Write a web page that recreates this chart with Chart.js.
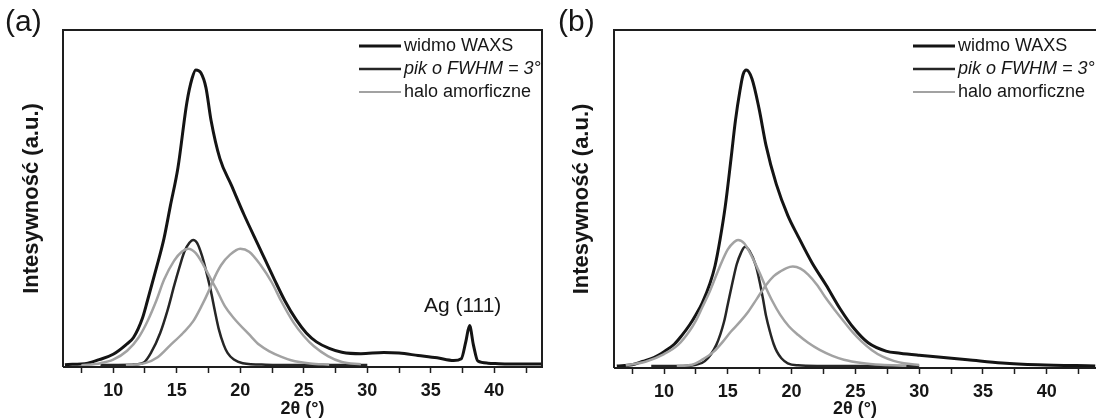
<!DOCTYPE html>
<html lang="pl">
<head>
<meta charset="utf-8">
<title>Widma WAXS</title>
<script src="https://cdn.jsdelivr.net/npm/chart.js@4.4.1/dist/chart.umd.min.js"></script>
<style>
    html, body { margin: 0; padding: 0; background: #fff; }
    #wykresy { position: relative; width: 1096px; height: 419px; }
    .panel { position: absolute; top: 0; width: 548px; height: 419px; }
    #panelA { left: 0; }
    #panelB { left: 548px; }
</style>
</head>
<body>
<div id="wykresy">
    <div class="panel" id="panelA"><canvas id="wykresA" width="548" height="419"></canvas></div>
    <div class="panel" id="panelB"><canvas id="wykresB" width="548" height="419"></canvas></div>
</div>
<script>
// Podziałka osi 2θ
const tickiGlowne = [10, 15, 20, 25, 30, 35, 40];
const tickiPomocnicze = [7.5, 12.5, 17.5, 22.5, 27.5, 32.5, 37.5, 42.5];

// Panel (a) - widmo WAXS
const katWidmoA = [6.2, 8.0, 8.9, 10.0, 11.0, 11.6, 12.3, 12.7, 13.4, 14.0, 14.5, 15.1, 15.8, 16.2, 16.5, 16.9, 17.3, 17.7, 18.4, 19.3, 20.3, 21.5, 22.7, 23.5, 24.4, 25.2, 26.0, 27.0, 28.0, 29.5, 31.3, 32.5, 34.0, 35.5, 36.8, 37.4, 37.75, 38.05, 38.35, 38.7, 39.5, 41.0, 43.7];
const widmoA = [0.3, 0.8, 2.0, 3.8, 7.0, 9.5, 16, 22, 33, 43, 54, 67, 89, 97, 100, 99, 94, 83, 70, 61, 51, 40, 29, 22, 15.5, 11, 8, 5.8, 4.5, 4.0, 4.4, 4.2, 3.4, 2.6, 1.7, 2.3, 8, 13.5, 7, 1.5, 0.8, 0.5, 0.5];

// Panel (a) - pik o FWHM = 3°
const katPikA = [9.0, 11.5, 12.4, 13.0, 13.7, 14.3, 14.8, 15.2, 15.6, 16.0, 16.3, 16.6, 17.0, 17.4, 17.7, 18.0, 18.3, 18.7, 19.0, 19.5, 20.2, 22.0, 25.0, 30.0];
const pikA = [0.2, 0.3, 1.0, 4.5, 11, 19, 27, 33, 38.5, 41.5, 42.5, 41.5, 37, 30.5, 25, 18.5, 12.5, 7, 4.3, 2, 0.8, 0.3, 0.2, 0.2];

// Panel (a) - halo amorficzne (dwa składniki)
const katHalo1A = [7.5, 9.0, 10.0, 11.1, 12.0, 12.7, 13.4, 14.0, 14.8, 15.4, 15.9, 16.5, 17.1, 17.6, 18.1, 18.8, 19.5, 20.7, 21.5, 22.3, 23.2, 24.0, 25.5, 27.0];
const halo1A = [0.1, 0.8, 2.0, 5, 9.5, 15, 22, 29, 35.5, 38.5, 39.5, 38, 34, 30, 26, 20, 16, 10.5, 7, 4.8, 3, 1.8, 0.7, 0.3];
const katHalo2A = [11.0, 12.5, 13.5, 14.5, 15.5, 16.3, 17.0, 17.5, 18.0, 18.5, 19.2, 20.0, 20.7, 21.6, 22.5, 23.2, 24.2, 25.0, 25.8, 26.9, 28.0, 29.5];
const halo2A = [0.1, 0.8, 2.8, 6.9, 11, 15, 20.5, 25, 30, 34, 37.5, 39.5, 38.5, 34, 28, 22, 14.5, 10, 6.5, 3.2, 1.2, 0.4];

// Panel (b) - widmo WAXS
const katWidmoB = [6.3, 7.5, 8.3, 9.2, 10.0, 10.8, 11.4, 12.0, 12.5, 13.0, 13.6, 14.0, 14.4, 14.8, 15.25, 15.6, 15.95, 16.2, 16.45, 16.9, 17.45, 18.0, 18.8, 19.7, 20.5, 21.6, 22.7, 23.8, 24.9, 26.0, 27.4, 28.5, 30.0, 31.5, 33.8, 36.5, 39.3, 43.8];
const widmoB = [0.2, 0.6, 1.7, 3.0, 5, 7.5, 10.5, 14, 17.5, 21.5, 28, 34, 43, 54, 70, 83, 93, 98.5, 100, 97, 87, 74.5, 61.5, 51, 44, 35, 27.5, 19.5, 12.8, 8, 5.2, 4.5, 3.8, 3.2, 2.3, 1.2, 0.6, 0.2];

// Panel (b) - pik o FWHM = 3°
const katPikB = [9.0, 11.5, 12.5, 13.2, 14.1, 14.7, 15.0, 15.4, 15.7, 16.0, 16.35, 16.7, 17.2, 17.5, 17.75, 18.0, 18.3, 18.6, 18.85, 19.2, 19.7, 20.5, 22.0, 30.0];
const pikB = [0.2, 0.2, 0.6, 1.8, 7.3, 15, 21, 29, 34.5, 38, 40.4, 39, 34, 28.5, 23, 17, 11.8, 7.5, 5, 2.8, 1.1, 0.4, 0.2, 0.2];

// Panel (b) - halo amorficzne (dwa składniki)
const katHalo1B = [7.0, 8.6, 10.0, 11.1, 12.0, 12.5, 13.0, 13.6, 14.4, 15.0, 15.5, 15.8, 16.3, 16.9, 17.5, 18.0, 18.5, 19.1, 19.8, 20.5, 21.3, 22.2, 23.2, 24.1, 25.5, 27.0, 29.0];
const halo1B = [0.4, 1.7, 4.2, 7.3, 12, 15.5, 20, 25.5, 34, 39.5, 42, 42.7, 41.5, 37, 31.5, 26.5, 22, 17.5, 13.5, 10.7, 8, 5.6, 3.6, 2.3, 1.2, 0.6, 0.3];
const katHalo2B = [11.0, 12.2, 13.0, 13.9, 14.6, 15.25, 16.0, 16.6, 17.3, 18.0, 18.6, 19.1, 19.6, 20.1, 20.7, 21.3, 22.0, 22.7, 23.4, 24.1, 24.8, 25.5, 26.3, 27.1, 28.0, 28.8, 30.0];
const halo2B = [0.2, 0.6, 2.3, 5, 8.3, 11.8, 15.3, 18.5, 23, 27.5, 30.5, 32, 33.2, 33.7, 33, 31, 27.5, 23, 19, 15.2, 11.5, 8.4, 5.5, 3.4, 1.9, 1.1, 0.5];

// Kolory i czcionki
const KOLORY = {
    widmo: '#141414',
    pik: '#262626',
    halo: '#a2a2a2',
    tekst: '#161616',
    ramka: '#1e1e1e'
};
const CZCIONKA = '"Liberation Sans", Arial, sans-serif';

// Wpisy legendy (wspólne dla obu paneli)
const LEGENDA = [
    { tekst: 'widmo WAXS', kolor: KOLORY.widmo, grubosc: 3, kursywa: false },
    { tekst: 'pik o FWHM = 3°', kolor: KOLORY.pik, grubosc: 2.4, kursywa: true },
    { tekst: 'halo amorficzne', kolor: KOLORY.halo, grubosc: 2.2, kursywa: false }
];

// Ramka, legenda, etykieta panelu i opis piku Ag
const dodatkiPlugin = {
    id: 'dodatki',
    afterDraw(chart, args, opts) {
        const { ctx, chartArea: ca, scales } = chart;
        ctx.save();

        // ramka wykresu
        ctx.strokeStyle = KOLORY.ramka;
        ctx.lineWidth = 2;
        ctx.beginPath();
        ctx.moveTo(ca.left, ca.bottom);
        ctx.lineTo(ca.left, ca.top);
        ctx.lineTo(ca.right, ca.top);
        if (opts.prawaKrawedz) {
            ctx.lineTo(ca.right, ca.bottom);
        } else {
            ctx.moveTo(ca.right, ca.bottom);
        }
        ctx.lineTo(ca.left, ca.bottom);
        ctx.stroke();

        // legenda
        ctx.textBaseline = 'middle';
        ctx.textAlign = 'left';
        LEGENDA.forEach((wpis, i) => {
            const y = ca.top + 16 + i * 23;
            ctx.strokeStyle = wpis.kolor;
            ctx.lineWidth = wpis.grubosc;
            ctx.beginPath();
            ctx.moveTo(ca.right - 183, y);
            ctx.lineTo(ca.right - 141, y);
            ctx.stroke();
            ctx.fillStyle = KOLORY.tekst;
            ctx.font = (wpis.kursywa ? 'italic ' : '') + '18px ' + CZCIONKA;
            ctx.fillText(wpis.tekst, ca.right - 138, y);
        });

        // etykieta panelu
        ctx.font = '30px ' + CZCIONKA;
        ctx.fillStyle = KOLORY.tekst;
        ctx.fillText(opts.etykieta, opts.etykietaX, 23);

        // opis piku srebra
        if (opts.opisPiku) {
            ctx.textAlign = 'center';
            ctx.font = '21px ' + CZCIONKA;
            ctx.fillText(opts.opisPiku.tekst,
                scales.x.getPixelForValue(opts.opisPiku.x),
                scales.y.getPixelForValue(opts.opisPiku.y));
        }
        ctx.restore();
    }
};

// Zamiana par tablic na punkty
function punkty(katy, wartosci) {
    return katy.map((k, i) => ({ x: k, y: wartosci[i] }));
}

function seria(katy, wartosci, kolor, grubosc) {
    return {
        data: punkty(katy, wartosci),
        borderColor: kolor,
        borderWidth: grubosc,
        pointRadius: 0,
        fill: false,
        cubicInterpolationMode: 'monotone'
    };
}

// Tworzenie jednego panelu
function utworzWykres(idCanvas, serie, ust) {
    const ctx = document.getElementById(idCanvas).getContext('2d');
    return new Chart(ctx, {
        type: 'line',
        data: { datasets: serie },
        options: {
            responsive: false,
            animation: false,
            devicePixelRatio: 1,
            layout: {
                padding: { top: 30, right: ust.prawyMargines, left: 0, bottom: 0 }
            },
            plugins: {
                legend: { display: false },
                tooltip: { enabled: false },
                dodatki: {
                    prawaKrawedz: ust.prawaKrawedz,
                    etykieta: ust.etykieta,
                    etykietaX: ust.etykietaX,
                    opisPiku: ust.opisPiku
                }
            },
            scales: {
                x: {
                    type: 'linear',
                    min: ust.xMin,
                    max: ust.xMax,
                    afterBuildTicks: function(skala) {
                        skala.ticks = [...tickiGlowne, ...tickiPomocnicze]
                            .sort((a, b) => a - b)
                            .map(v => ({ value: v }));
                    },
                    afterFit: function(skala) {
                        skala.height = ust.wysokoscOsiX;
                    },
                    ticks: {
                        autoSkip: false,
                        maxRotation: 0,
                        padding: 7,
                        color: KOLORY.tekst,
                        font: { family: CZCIONKA, size: 18, weight: 'bold' },
                        callback: function(value) {
                            return tickiGlowne.includes(value) ? String(value) : '';
                        }
                    },
                    grid: {
                        drawOnChartArea: false,
                        drawTicks: true,
                        tickLength: 6,
                        tickColor: KOLORY.ramka,
                        tickWidth: 1.5
                    },
                    border: { display: false },
                    title: {
                        display: true,
                        text: '2θ (°)',
                        color: KOLORY.tekst,
                        padding: { top: 0, bottom: -1 },
                        font: { family: CZCIONKA, size: 18, weight: 'bold' }
                    }
                },
                y: {
                    min: -0.5,
                    max: 113.5,
                    afterFit: function(skala) {
                        skala.width = ust.szerokoscOsiY;
                    },
                    ticks: { display: false },
                    grid: { display: false },
                    border: { display: false },
                    title: {
                        display: true,
                        text: 'Intesywność (a.u.)',
                        color: KOLORY.tekst,
                        padding: { top: ust.odstepTytuluY, bottom: 0 },
                        font: { family: CZCIONKA, size: 22, weight: 'bold' }
                    }
                }
            }
        },
        plugins: [dodatkiPlugin]
    });
}

utworzWykres('wykresA', [
    seria(katHalo1A, halo1A, KOLORY.halo, 2.5),
    seria(katHalo2A, halo2A, KOLORY.halo, 2.5),
    seria(katPikA, pikA, KOLORY.pik, 2.5),
    seria(katWidmoA, widmoA, KOLORY.widmo, 3)
], {
    xMin: 6.05, xMax: 43.75,
    prawyMargines: 6, prawaKrawedz: true,
    wysokoscOsiX: 52, szerokoscOsiY: 63, odstepTytuluY: 18.5,
    etykieta: '(a)', etykietaX: 5,
    opisPiku: { tekst: 'Ag (111)', x: 37.5, y: 20 }
});

utworzWykres('wykresB', [
    seria(katHalo1B, halo1B, KOLORY.halo, 2.5),
    seria(katHalo2B, halo2B, KOLORY.halo, 2.5),
    seria(katPikB, pikB, KOLORY.pik, 2.5),
    seria(katWidmoB, widmoB, KOLORY.widmo, 3)
], {
    xMin: 6.08, xMax: 43.86,
    prawyMargines: 0, prawaKrawedz: false,
    wysokoscOsiX: 51, szerokoscOsiY: 66, odstepTytuluY: 21,
    etykieta: '(b)', etykietaX: 10,
    opisPiku: null
});
</script>
</body>
</html>
